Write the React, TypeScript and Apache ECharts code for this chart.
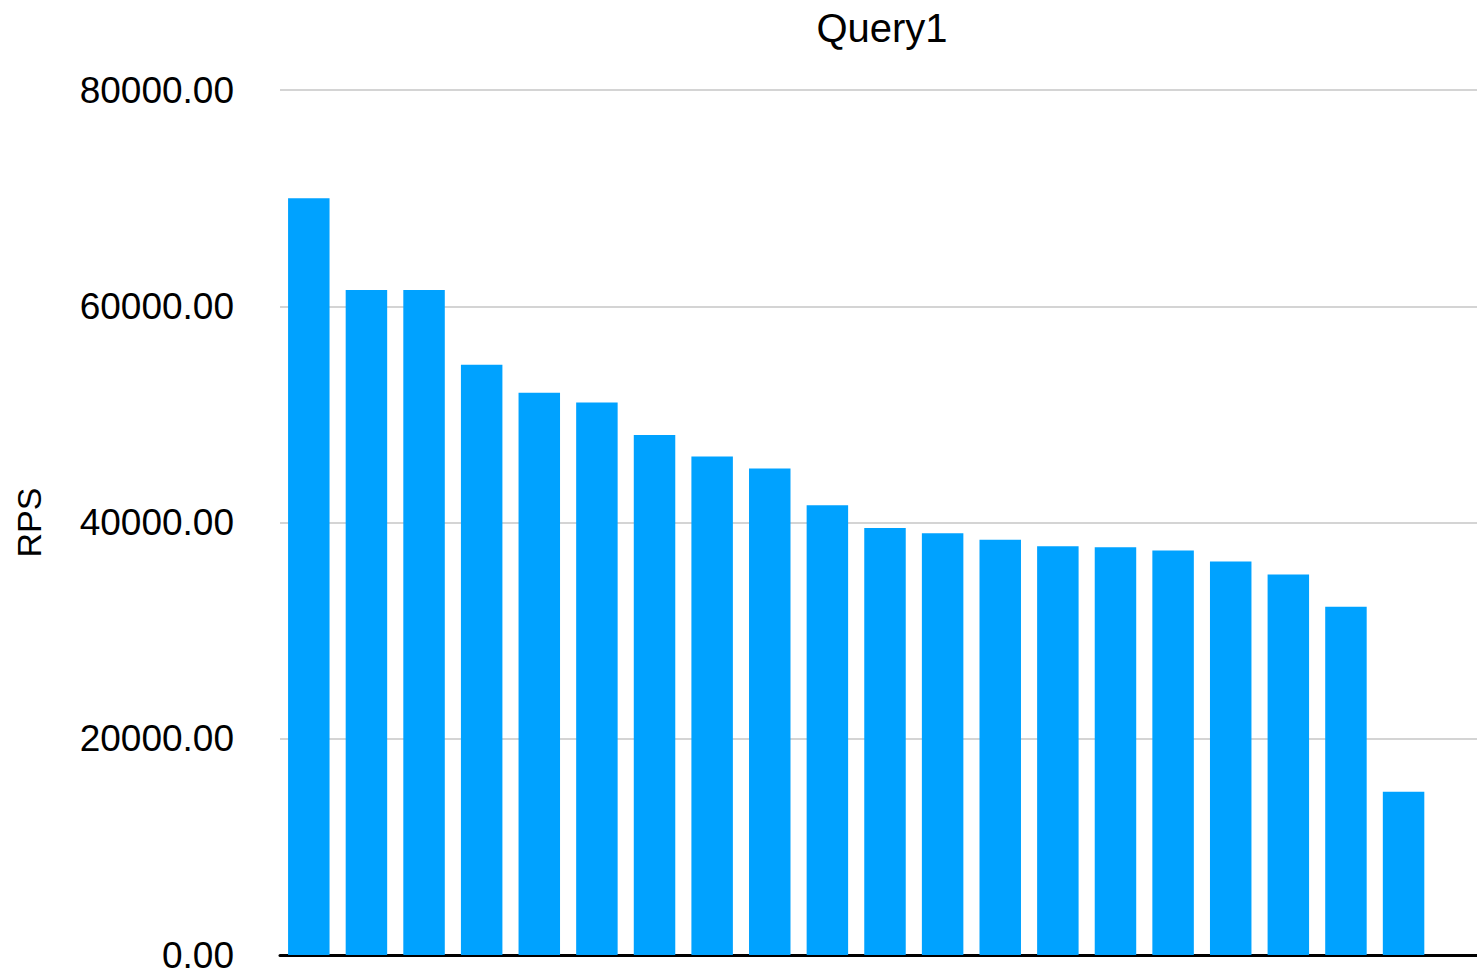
import React, { useEffect, useRef } from "react";
import * as echarts from "echarts";

const TITLE = "Query1";
const Y_NAME = "RPS";
const categories = [
  "1", "2", "3", "4", "5", "6", "7", "8", "9", "10",
  "11", "12", "13", "14", "15", "16", "17", "18", "19", "20",
];
const rpsValues = [
  70000, 61500, 61500, 54600, 52000, 51100, 48100, 46100, 45000, 41600,
  39500, 39000, 38400, 37800, 37700, 37400, 36400, 35200, 32200, 15100,
];
const yTicks = { min: 0, max: 80000, interval: 20000 };

const FONT = "'Liberation Sans', Arial, Helvetica, sans-serif";

export default function App() {
  const ref = useRef<HTMLDivElement>(null);
  useEffect(() => {
    if (!ref.current) return;
    const chart = echarts.init(ref.current, undefined, { renderer: "svg" });
    chart.setOption({
      animation: false,
      backgroundColor: "#ffffff",
      textStyle: { fontFamily: FONT },
      title: {
        text: TITLE,
        left: 882,
        top: 8,
        padding: 0,
        textAlign: "center",
        textStyle: { fontFamily: FONT, fontSize: 40, fontWeight: "normal", color: "#000000" },
      },
      grid: {
        left: 280,
        width: 1210,
        top: 90,
        bottom: 20,
        containLabel: false,
        outerBoundsMode: "none",
      },
      xAxis: {
        type: "category",
        data: categories,
        max: categories.length,
        axisLine: { show: true, lineStyle: { color: "#000000", width: 3 } },
        axisTick: { show: false },
        axisLabel: { show: false },
        splitLine: { show: false },
      },
      yAxis: {
        type: "value",
        min: yTicks.min,
        max: yTicks.max,
        interval: yTicks.interval,
        name: Y_NAME,
        nameLocation: "middle",
        nameRotate: 90,
        nameGap: 234,
        nameTextStyle: { fontFamily: FONT, fontSize: 34, color: "#000000" },
        axisLine: { show: false },
        axisTick: { show: false },
        axisLabel: {
          margin: 46,
          fontFamily: FONT,
          fontSize: 37,
          color: "#000000",
          formatter: (v: number) => v.toFixed(2),
        },
        splitLine: { show: true, lineStyle: { color: "#c6c6c6", width: 1.5 } },
      },
      series: [
        {
          type: "bar",
          data: rpsValues,
          barCategoryGap: "28%",
          itemStyle: { color: "#00A2FF" },
        },
      ],
    });
    return () => chart.dispose();
  }, []);
  return (
    <div
      ref={ref}
      style={{ position: "fixed", left: 0, top: 0, width: 1477, height: 975 }}
    />
  );
}
